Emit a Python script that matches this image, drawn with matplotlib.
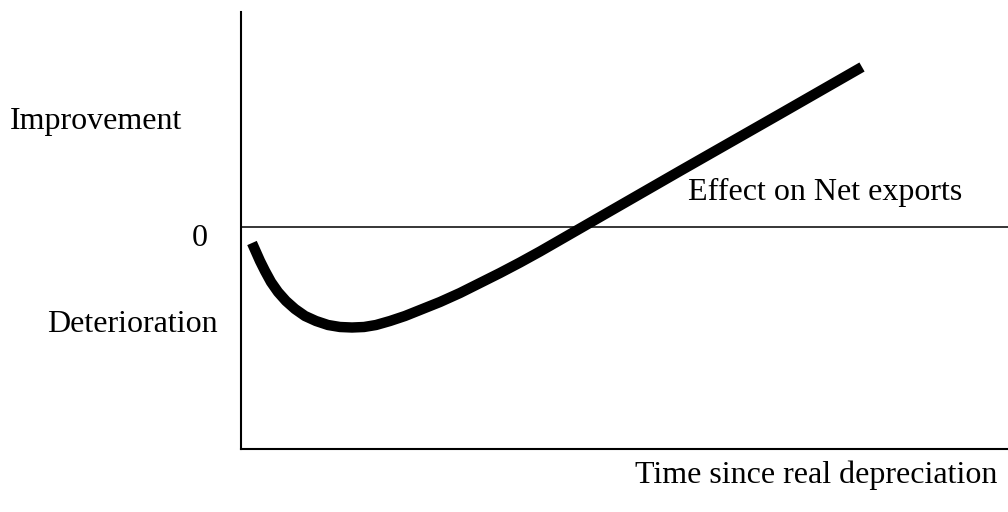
import matplotlib
matplotlib.use("Agg")
import matplotlib.pyplot as plt

# J-curve: effect on net exports vs time since real depreciation (arbitrary units)
time = [11, 15, 19, 24, 30, 37, 45, 54, 64, 75, 87, 99, 111, 123, 135, 149,
        164, 179, 199, 219, 239, 259, 279, 299, 319, 339, 359, 439, 539, 621]
effect = [-16, -25, -34, -44, -55, -65, -74, -82, -89, -94, -98, -100, -100.5,
          -100, -98, -94, -89, -83, -75, -66, -56, -46, -35.5, -24.5, -13, -1.5,
          10, 56, 113, 160]

W, H = 1008, 512
fig = plt.figure(figsize=(W / 100, H / 100), dpi=100)
plt.rcParams['font.family'] = ['Liberation Serif', 'DejaVu Serif']

ax = fig.add_axes([241 / W, (H - 448.5) / H, 767 / W, 436.5 / H])
ax.set_xlim(0, 767)
ax.set_ylim(-221.5, 215)
for s in ['top', 'right']:
    ax.spines[s].set_visible(False)
for s in ['left', 'bottom']:
    ax.spines[s].set_linewidth(1.5)
ax.set_xticks([])
ax.set_yticks([])

ax.axhline(0, color='black', lw=1.1)
ax.plot(time, effect, color='black', lw=7.5, solid_capstyle='butt',
        solid_joinstyle='round')


def label(px, py, s, ha='left'):
    fig.text(px / W, 1 - py / H, s, ha=ha, va='baseline', fontsize=23)


label(182, 129, 'Improvement', ha='right')
label(192, 246, '0')
label(47, 332, 'Deterioration')
label(688, 200, 'Effect on Net exports')
label(997, 483, 'Time since real depreciation', ha='right')

fig.savefig('out.png', dpi=100)
